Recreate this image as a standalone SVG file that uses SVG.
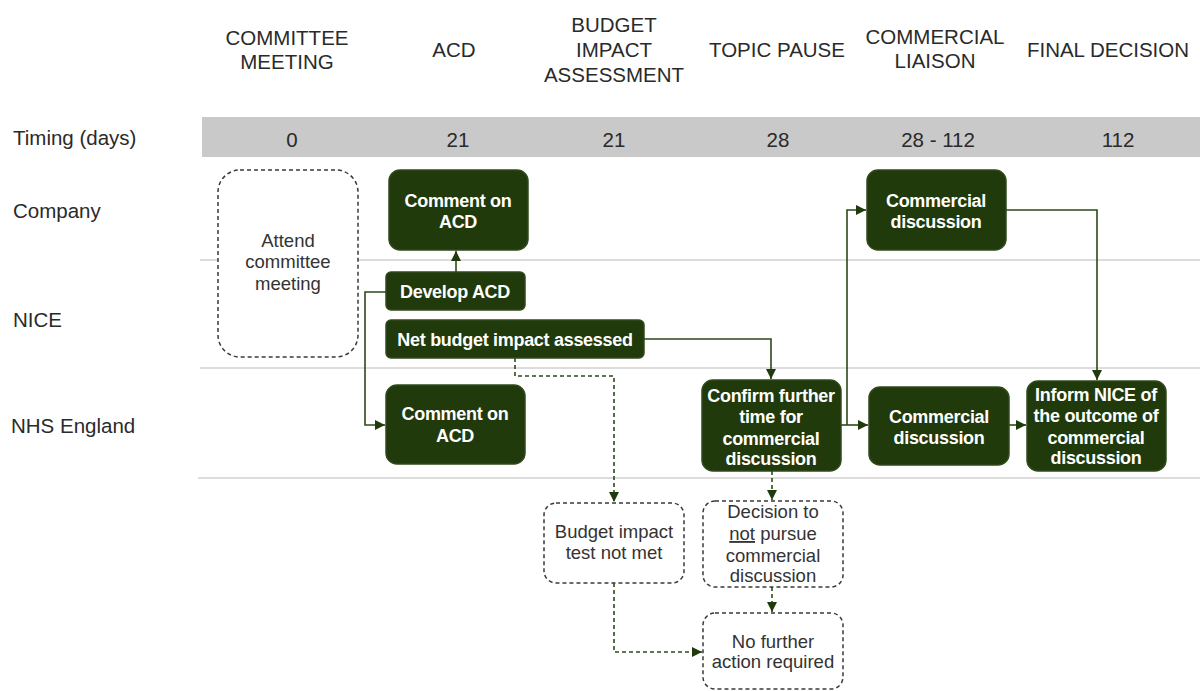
<svg xmlns="http://www.w3.org/2000/svg" width="1200" height="691" viewBox="0 0 1200 691">
<defs>
<style>
.hdr{font-family:"Liberation Sans",Arial,sans-serif;font-size:20.5px;fill:#2a2a2a;text-anchor:middle}
.row{font-family:"Liberation Sans",Arial,sans-serif;font-size:20.5px;fill:#2a2a2a}
.num{font-family:"Liberation Sans",Arial,sans-serif;font-size:20.5px;fill:#2a2a2a;text-anchor:middle}
.lane{stroke:#d2d2d2;stroke-width:1.5}
.box{fill:#213a0c;stroke:#2f4a1e;stroke-width:1.5}
.dbox{fill:#ffffff;stroke:#3a3a3a;stroke-width:1.5;stroke-dasharray:4 3}
.wt{font-family:"Liberation Sans",Arial,sans-serif;font-size:18px;font-weight:bold;fill:#ffffff;text-anchor:middle;letter-spacing:-0.3px}
.dt{font-family:"Liberation Sans",Arial,sans-serif;font-size:18.5px;fill:#333333;text-anchor:middle}
.c{fill:none;stroke:#2b4a1a;stroke-width:1.6}
.cd{fill:none;stroke:#2b4a1a;stroke-width:1.6;stroke-dasharray:4 3}
</style>
<marker id="ah" viewBox="0 0 10 10" refX="10" refY="5" markerWidth="10" markerHeight="10" markerUnits="userSpaceOnUse" orient="auto">
<path d="M0,0 L10,5 L0,10 z" fill="#1f3a0b"/>
</marker>
</defs>
<rect width="1200" height="691" fill="#ffffff"/>

<g id="headers">
<text class="hdr" x="287" y="45">COMMITTEE</text>
<text class="hdr" x="287" y="69">MEETING</text>
<text class="hdr" x="454" y="57">ACD</text>
<text class="hdr" x="614" y="32">BUDGET</text>
<text class="hdr" x="614" y="57">IMPACT</text>
<text class="hdr" x="614" y="82">ASSESSMENT</text>
<text class="hdr" x="777" y="57">TOPIC PAUSE</text>
<text class="hdr" x="935" y="44">COMMERCIAL</text>
<text class="hdr" x="935" y="68">LIAISON</text>
<text class="hdr" x="1108" y="57">FINAL DECISION</text>
</g>

<g id="timing">
<rect x="202" y="117" width="998" height="40" fill="#c9c9c9"/>
<text class="num" x="292" y="147">0</text>
<text class="num" x="458" y="147">21</text>
<text class="num" x="614" y="147">21</text>
<text class="num" x="778" y="147">28</text>
<text class="num" x="938" y="147">28 - 112</text>
<text class="num" x="1118" y="147">112</text>
</g>

<g id="lanes">
<line class="lane" x1="200" y1="260" x2="1200" y2="260"/>
<line class="lane" x1="200" y1="368" x2="1200" y2="368"/>
<line class="lane" x1="198" y1="478" x2="1200" y2="478"/>
<text class="row" x="13" y="145">Timing (days)</text>
<text class="row" x="13" y="218">Company</text>
<text class="row" x="13" y="327">NICE</text>
<text class="row" x="11" y="433">NHS England</text>
</g>

<g id="connectors">
<path class="c" d="M456,272 V251" marker-end="url(#ah)"/>
<path class="c" d="M386,292 H365 V425 H385" marker-end="url(#ah)"/>
<path class="c" d="M644,339 H771 V379" marker-end="url(#ah)"/>
<path class="cd" d="M515,358 V376 H614 V502" marker-end="url(#ah)"/>
<path class="c" d="M841,425 H868" marker-end="url(#ah)"/>
<path class="c" d="M847,425 V210 H866" marker-end="url(#ah)"/>
<path class="c" d="M1006,210 H1097 V380" marker-end="url(#ah)"/>
<path class="c" d="M1009,425 H1026" marker-end="url(#ah)"/>
<path class="cd" d="M772,471 V500" marker-end="url(#ah)"/>
<path class="cd" d="M772,587 V612" marker-end="url(#ah)"/>
<path class="cd" d="M614,583 V652 H702" marker-end="url(#ah)"/>
</g>

<g id="attend">
<rect class="dbox" x="218" y="170" width="140" height="187" rx="22"/>
<text class="dt" x="288" y="247">Attend</text>
<text class="dt" x="288" y="268">committee</text>
<text class="dt" x="288" y="290">meeting</text>
</g>

<g id="comment-company">
<rect class="box" x="389" y="170" width="139" height="80" rx="11"/>
<text class="wt" x="458" y="207">Comment on</text>
<text class="wt" x="458" y="228">ACD</text>
</g>

<g id="develop-acd">
<rect class="box" x="386" y="272" width="139" height="38" rx="5"/>
<text class="wt" x="455" y="298">Develop ACD</text>
</g>

<g id="net-budget">
<rect class="box" x="386" y="320" width="258" height="38" rx="5"/>
<text class="wt" x="515" y="346">Net budget impact assessed</text>
</g>

<g id="comment-nhs">
<rect class="box" x="386" y="385" width="139" height="79" rx="11"/>
<text class="wt" x="455" y="420">Comment on</text>
<text class="wt" x="455" y="442">ACD</text>
</g>

<g id="confirm">
<rect class="box" x="702" y="380" width="139" height="91" rx="11"/>
<text class="wt" x="771" y="402">Confirm further</text>
<text class="wt" x="771" y="423">time for</text>
<text class="wt" x="771" y="445">commercial</text>
<text class="wt" x="771" y="465">discussion</text>
</g>

<g id="commercial-company">
<rect class="box" x="867" y="170" width="139" height="80" rx="11"/>
<text class="wt" x="936" y="207">Commercial</text>
<text class="wt" x="936" y="228">discussion</text>
</g>

<g id="commercial-nhs">
<rect class="box" x="869" y="387" width="140" height="78" rx="11"/>
<text class="wt" x="939" y="423">Commercial</text>
<text class="wt" x="939" y="444">discussion</text>
</g>

<g id="inform">
<rect class="box" x="1027" y="381" width="139" height="90" rx="11"/>
<text class="wt" x="1096" y="401">Inform NICE of</text>
<text class="wt" x="1096" y="422">the outcome of</text>
<text class="wt" x="1096" y="444">commercial</text>
<text class="wt" x="1096" y="464">discussion</text>
</g>

<g id="budget-not-met">
<rect class="dbox" x="544" y="503" width="140" height="80" rx="12"/>
<text class="dt" x="614" y="538">Budget impact</text>
<text class="dt" x="614" y="559">test not met</text>
</g>

<g id="decision-not-pursue">
<rect class="dbox" x="703" y="501" width="140" height="86" rx="12"/>
<text class="dt" x="773" y="518">Decision to</text>
<text class="dt" x="773" y="540"><tspan text-decoration="underline">not</tspan> pursue</text>
<text class="dt" x="773" y="562">commercial</text>
<text class="dt" x="773" y="582">discussion</text>
</g>

<g id="no-further">
<rect class="dbox" x="703" y="613" width="140" height="76" rx="12"/>
<text class="dt" x="773" y="648">No further</text>
<text class="dt" x="773" y="668">action required</text>
</g>
</svg>
